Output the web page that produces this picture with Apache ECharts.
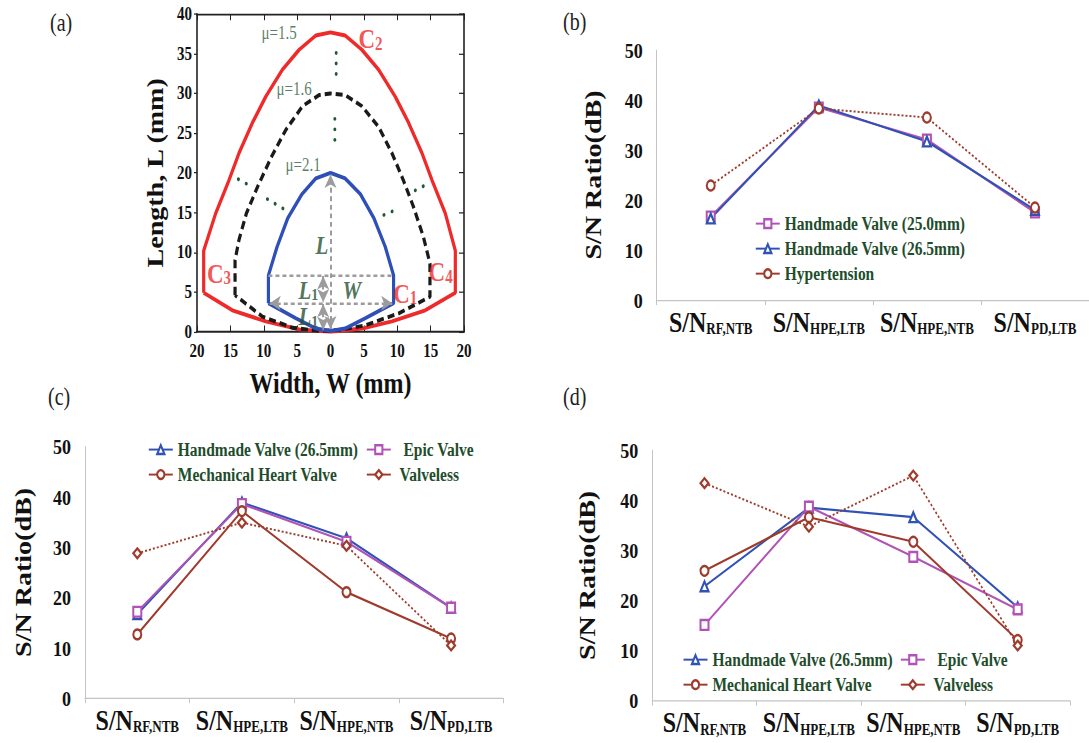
<!DOCTYPE html>
<html><head><meta charset="utf-8">
<script src="https://cdn.jsdelivr.net/npm/echarts@6/dist/echarts.min.js"></script>
<style>
html,body{margin:0;padding:0;background:#fff;overflow:hidden;width:1089px;height:743px}
#wrap{width:1089px;height:609px;transform:scaleY(1.22);transform-origin:0 0}
#c{width:1089px;height:609px}
</style></head>
<body><div id="wrap"><div id="c"></div></div>
<script>
// ---------- Panel (a): shape outlines, [width (mm), length (mm)] ----------
const shapeMu15 = [[-19.0,4.9],[-19.0,10.2],[-17.2,14.9],[-15.2,19.1],[-13.7,22.5],[-11.7,26.3],[-9.7,29.6],[-7.2,33.0],[-4.7,35.5],[-2.2,37.3],[0,37.7],[2.2,37.3],[4.7,35.5],[7.2,33.0],[9.7,29.6],[11.7,26.3],[13.7,22.5],[15.2,19.1],[17.2,14.9],[18.7,10.2],[18.7,4.9],[14.2,2.7],[9.2,1.3],[4.7,0.4],[0,0],[-4.7,0.3],[-9.7,1.3],[-14.7,2.7],[-19.0,4.9]];
const shapeMu16 = [[-14.3,4.6],[-14.3,9.0],[-13.7,11.6],[-12.6,14.9],[-10.9,18.3],[-8.8,22.1],[-6.7,25.4],[-4.2,28.4],[-1.7,29.8],[0,30.0],[2.2,29.8],[4.7,28.4],[7.2,25.8],[9.2,22.5],[10.9,19.1],[12.4,15.8],[13.9,12.0],[14.9,8.6],[14.9,4.4],[10.2,2.3],[5.2,0.8],[1.2,0.2],[-1.7,0.1],[-5.7,0.5],[-10.2,1.9],[-14.3,4.6]];
const shapeMu21 = [[-9.3,3.6],[-9.3,7.1],[-8.0,10.7],[-6.4,14.3],[-4.3,17.3],[-2.2,19.3],[0,20.0],[2.2,19.3],[4.5,17.3],[6.5,14.3],[8.2,10.7],[9.45,7.1],[9.45,3.6],[5.2,1.7],[2.2,0.4],[0,0.1],[-2.2,0.4],[-5.2,1.7],[-9.3,3.6]];
const dimArrows = [[[0,0.3],[0,19.8]],[[-1.1,7.0],[-1.1,3.7]],[[-1.1,3.5],[-1.1,0.2]],[[-9.1,3.6],[9.25,3.6]]];
const dimPlain = [[[-9.3,7.1],[9.45,7.1]]];
const greenDots = [[[0.85,35.1],[0.85,32.2]],[[0.65,26.8],[0.65,23.9]],[[-13.8,19.2],[-12.3,18.5]],[[-9.45,16.7],[-6.7,15.3]],[[8.0,14.7],[10.2,15.5]],[[12.7,17.8],[14.3,18.5]]];
const muNotes = [['μ=1.5',[-7.7,37.6]],['μ=1.6',[-5.45,30.5]],['μ=2.1',[-4.1,21.0]]];
const cornerNotes = [['C','2',[6.0,36.9]],['C','3',[-16.7,7.35]],['C','4',[16.5,7.55]],['C','1',[11.2,4.8]]];
const dimNotes = [['L','',[-1.3,10.9]],['W','',[3.2,5.25]],['L','1',[-3.3,5.25]],['L','1',[-3.3,1.9]]];

// ---------- Panels (b)-(d): S/N ratios ----------
const categories = ['S/N_RF,NTB','S/N_HPE,LTB','S/N_HPE,NTB','S/N_PD,LTB'];
const b_hand250 = [16.7, 38.5, 32.1, 17.5];
const b_hand265 = [16.3, 38.9, 31.7, 18.0];
const b_hyper   = [22.9, 38.3, 36.5, 18.5];
const c_hand265 = [16.7, 38.9, 31.8, 18.0];
const c_epic    = [17.2, 38.6, 31.1, 18.0];
const c_mech    = [12.7, 37.2, 21.1, 11.9];
const c_valveless = [28.8, 34.9, 30.3, 10.5];
const d_hand265 = [22.8, 38.5, 36.6, 18.6];
const d_epic    = [15.1, 38.7, 28.7, 18.2];
const d_mech    = [25.9, 36.6, 31.7, 12.1];
const d_valveless = [43.4, 34.7, 44.9, 11.0];

const SERIF = 'Liberation Serif';
const BLUE = '#2f52b4', MAG = '#b152b6', BROWN = '#9e3b2c', RED = '#ee2a2a', GREEN = '#1f4d2c';

const grids = [
  {left:197, top:11.5, width:267, height:260.4},
  {left:656.7, top:41.0, width:440.8, height:204.9},
  {left:85, top:366.1, width:418.4, height:206.3},
  {left:652.3, top:368.9, width:417.6, height:205.4}
];

const frameLine = {show:true, onZero:false, lineStyle:{color:'#222', width:1.6}};
const xAxes = [
  {gridIndex:0, type:'value', min:-20, max:20, interval:5, position:'bottom',
   axisLine:frameLine, axisTick:{inside:true, length:5, lineStyle:{color:'#222'}},
   splitLine:{show:false},
   axisLabel:{formatter:v=>String(Math.abs(v)), fontFamily:SERIF, fontWeight:'bold', fontSize:15, color:'#111', margin:8, showMinLabel:true, showMaxLabel:true},
   name:'Width, W (mm)', nameLocation:'middle', nameGap:30,
   nameTextStyle:{fontFamily:SERIF, fontWeight:'bold', fontSize:24, color:'#111'}},
  {gridIndex:0, type:'value', min:-20, max:20, interval:5, position:'top',
   axisLine:frameLine, axisTick:{inside:true, length:5, lineStyle:{color:'#222'}},
   axisLabel:{show:false}, splitLine:{show:false}}
];
const yAxes = [
  {gridIndex:0, type:'value', min:0, max:40, interval:5, position:'left',
   axisLine:frameLine, axisTick:{show:true, length:3, lineStyle:{color:'#222'}},
   splitLine:{show:false},
   axisLabel:{fontFamily:SERIF, fontWeight:'bold', fontSize:15, color:'#111', margin:5},
   name:'Length, L (mm)', nameLocation:'middle', nameGap:30,
   nameTextStyle:{fontFamily:SERIF, fontWeight:'bold', fontSize:23, color:'#111'}},
  {gridIndex:0, type:'value', min:0, max:40, interval:5, position:'right',
   axisLine:frameLine, axisTick:{inside:true, length:5, lineStyle:{color:'#222'}},
   axisLabel:{show:false}, splitLine:{show:false}}
];
const nameGaps = [52, 50, 53];
for (let g = 1; g <= 3; g++) {
  xAxes.push({gridIndex:g, type:'category', data:categories, boundaryGap:true,
    axisLine:{onZero:false, lineStyle:{color:'#c4c4c4', width:1}},
    axisTick:{show:true, length:4, lineStyle:{color:'#c4c4c4'}},
    axisLabel:{interval:0, margin:6, color:'#111',
      formatter:v=>{const p=v.split('_'); return '{m|'+p[0]+'}{s|'+p[1]+'}';},
      rich:{m:{fontFamily:SERIF, fontWeight:'bold', fontSize:24, color:'#111', verticalAlign:'bottom'},
            s:{fontFamily:SERIF, fontWeight:'bold', fontSize:13, color:'#111', verticalAlign:'bottom'}}}});
  yAxes.push({gridIndex:g, type:'value', min:0, max:50, interval:10,
    axisLine:{show:true, onZero:false, lineStyle:{color:'#c4c4c4', width:1}},
    axisTick:{show:false}, splitLine:{show:false},
    axisLabel:{fontFamily:SERIF, fontWeight:'bold', fontSize:18, color:'#111', margin:14},
    name:'S/N Ratio(dB)', nameLocation:'middle', nameGap:nameGaps[g-1],
    nameTextStyle:{fontFamily:SERIF, fontWeight:'bold', fontSize:23, color:'#111'}});
}

const series = [];
function shape(name, data, color, type){
  series.push({name, type:'line', xAxisIndex:0, yAxisIndex:0, data, showSymbol:false, symbol:'none',
    lineStyle:{color, width:3.2, type:type||'solid'}, silent:true, z:3});
}
shape('μ=1.5', shapeMu15, RED);
shape('μ=1.6', shapeMu16, '#1a1a1a', [7,4]);
shape('μ=2.1', shapeMu21, '#2f4fb8');
greenDots.forEach((seg,i)=>series.push({name:'dots'+i, type:'line', xAxisIndex:0, yAxisIndex:0, data:seg,
  symbol:'none', silent:true, lineStyle:{color:'#1e5a34', width:3, type:[0.1,8.5], cap:'round'}}));
series.push({name:'dims', type:'line', xAxisIndex:0, yAxisIndex:0, data:[], silent:true, z:5,
  markLine:{silent:true, animation:false, symbol:['arrow','arrow'], symbolSize:[9,11],
    label:{show:false}, lineStyle:{color:'#9c9c9c', width:2, type:[4,3]},
    data: dimArrows.map(s=>[{coord:s[0]},{coord:s[1]}]).concat(
      dimPlain.map(s=>[{coord:s[0], symbol:'none'},{coord:s[1], symbol:'none'}]))}});
function notes(list, labelFn, style){
  series.push({type:'scatter', xAxisIndex:0, yAxisIndex:0, silent:true, symbolSize:2, z:6,
    itemStyle:{color:'rgba(0,0,0,0)'},
    label:{show:true, position:'inside', ...style},
    data:list.map(n=>({value:n[n.length-1], label:{formatter:labelFn(n)}}))});
}
notes(muNotes, n=>n[0], {fontFamily:SERIF, fontSize:15, color:'#2f5e3c'});
notes(cornerNotes, n=>'{c|'+n[0]+'}{s|'+n[1]+'}', {rich:{
  c:{fontFamily:SERIF, fontWeight:'bold', fontSize:23, color:RED, verticalAlign:'bottom'},
  s:{fontFamily:SERIF, fontWeight:'bold', fontSize:15, color:RED, verticalAlign:'bottom'}}});
notes(dimNotes, n=>'{c|'+n[0]+'}'+(n[1]?'{s|'+n[1]+'}':''), {rich:{
  c:{fontFamily:SERIF, fontStyle:'italic', fontWeight:'bold', fontSize:21, color:'#24512f', verticalAlign:'bottom'},
  s:{fontFamily:SERIF, fontWeight:'bold', fontSize:14, color:'#24512f', verticalAlign:'bottom'}}});

function sn(name, g, data, color, symbol, dotted){
  series.push({name, type:'line', xAxisIndex:g+1, yAxisIndex:g+1, data, symbol, symbolSize:8,
    showAllSymbol:true, lineStyle:{color, width:dotted?1.6:1.8, type:dotted?[2,2]:'solid'},
    itemStyle:{color, borderColor:color, borderWidth:1.4}, silent:true});
}
sn('Handmade Valve (25.0mm)', 1, b_hand250, MAG, 'emptyRect');
sn('Handmade Valve (26.5mm)', 1, b_hand265, BLUE, 'emptyTriangle');
sn('Hypertension', 1, b_hyper, BROWN, 'emptyCircle', true);
sn('Handmade Valve (26.5mm)', 2, c_hand265, BLUE, 'emptyTriangle');
sn('Epic Valve', 2, c_epic, MAG, 'emptyRect');
sn('Mechanical Heart Valve', 2, c_mech, BROWN, 'emptyCircle');
sn('Valveless', 2, c_valveless, BROWN, 'emptyDiamond', true);
sn('Handmade Valve (26.5mm)', 3, d_hand265, BLUE, 'emptyTriangle');
sn('Epic Valve', 3, d_epic, MAG, 'emptyRect');
sn('Mechanical Heart Valve', 3, d_mech, BROWN, 'emptyCircle');
sn('Valveless', 3, d_valveless, BROWN, 'emptyDiamond', true);

const legendSpots = [
  ['Handmade Valve (25.0mm)',755,175.3],['Handmade Valve (26.5mm)',755,195.8],['Hypertension',755,216.3],
  ['Handmade Valve (26.5mm)',148,360.5],['Epic Valve',366,360.5],['Mechanical Heart Valve',148,381],['Valveless',366,381],
  ['Handmade Valve (26.5mm)',682.7,532.7],['Epic Valve',900,532.7],['Mechanical Heart Valve',682.7,553.2],['Valveless',900,553.2]
];
const legends = legendSpots.map(l=>({data:[l[0]], left:l[1], top:l[2], itemWidth:24, itemHeight:9,
  selectedMode:false, padding:0, formatter:n=>(n==='Epic Valve'?'  ':(l[1]>300&&l[1]<400||l[1]===900?' ':''))+n,
  lineStyle:{type:'solid', width:1.6}, itemStyle:{borderWidth:1.4},
  textStyle:{fontFamily:SERIF, fontWeight:'bold', fontSize:15.5, color:GREEN}}));

const panelTitles = [['(a)',50,9],['(b)',563,8],['(c)',48,315],['(d)',563,315]];
const titles = panelTitles.map(t=>({text:t[0], left:t[1], top:t[2], padding:0,
  textStyle:{fontFamily:SERIF, fontWeight:'normal', fontSize:20, color:'#222'}}));

const chart = echarts.init(document.getElementById('c'), null, {renderer:'svg'});
chart.setOption({animation:false, backgroundColor:'#fff', title:titles, legend:legends,
  grid:grids, xAxis:xAxes, yAxis:yAxes, series, tooltip:{show:false}});
</script></body></html>
